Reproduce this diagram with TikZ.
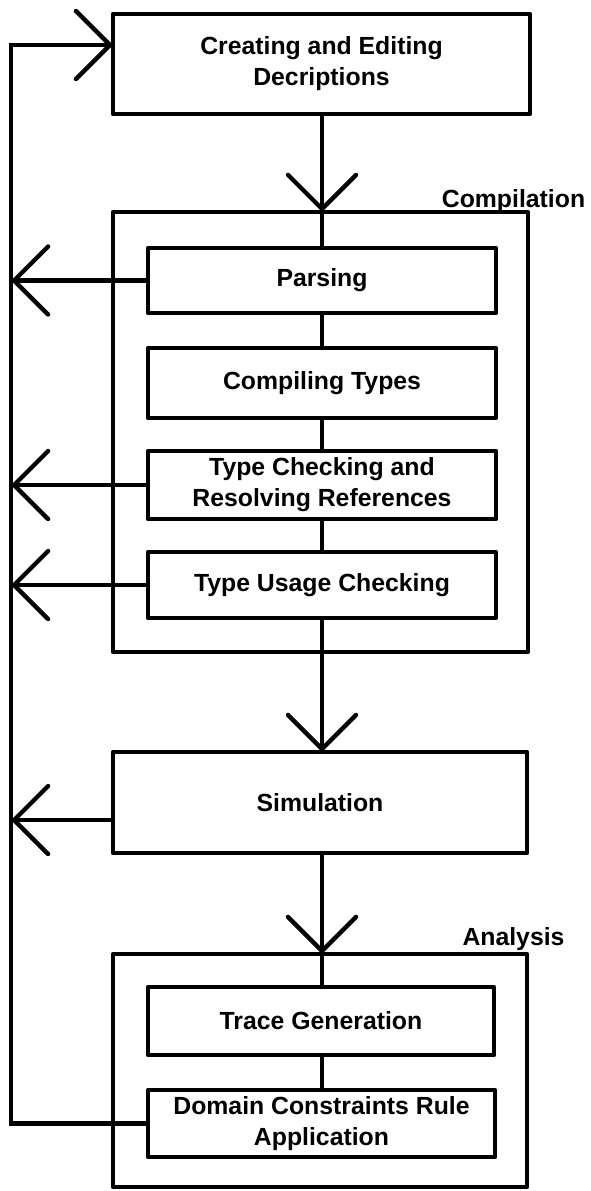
\documentclass[tikz,border=0pt]{standalone}
\usepackage{fontspec}
\setmainfont{Liberation Sans}
\usetikzlibrary{arrows.meta}

\begin{document}
\begin{tikzpicture}[x=1pt,y=-1pt,
  line width=4.4pt,
  txt/.style={font=\fontsize{24.8}{31}\selectfont\bfseries, align=center},
  box/.style={txt, draw, rectangle, inner sep=0pt, outer sep=0pt, line join=round},
  stage/.style={box, minimum width=#1},
  frame/.style={draw, rectangle, inner sep=0pt, outer sep=0pt, line join=round},
  link/.style={line cap=butt},
  arr/.style={-{Straight Barb[length=34pt, width=68pt, line cap=round, line join=miter]}},
]
\useasboundingbox (0,0) rectangle (590,1191);

% outer stages
\node[stage=417pt, minimum height=100pt] (top) at (321.5,64) {Creating and Editing\\Decriptions};
\node[frame, minimum width=415pt, minimum height=440pt] (comp) at (320.5,432) {};
\node[stage=414pt, minimum height=101pt] (sim) at (320,802.5) {Simulation};
\node[frame, minimum width=414pt, minimum height=233pt] (ana) at (320,1070.5) {};

% group labels
\node[txt, anchor=base] (complabel) at (513.5,207) {Compilation};
\node[txt, anchor=base] (analabel) at (513.5,945) {Analysis};

% compilation steps
\node[stage=348pt, minimum height=65pt] (parse) at (322,280.5) {Parsing};
\node[stage=348pt, minimum height=70pt] (ctypes) at (322,383) {Compiling Types};
\node[stage=348pt, minimum height=68pt] (tcheck) at (322,485) {Type Checking and\\Resolving References};
\node[stage=348pt, minimum height=66pt] (tusage) at (322,585) {Type Usage Checking};

% analysis steps
\node[stage=346pt, minimum height=68pt] (trace) at (321,1021) {Trace Generation};
\node[stage=347pt, minimum height=67pt] (domain) at (321.5,1123.5) {Domain Constraints Rule\\Application};

% helper coordinates
\coordinate (cx) at (322,0);
\coordinate (lx) at (11,0);
\coordinate (fbtop) at (11,45);
\coordinate (simout) at (113,820);

% main flow down the centre
\draw[arr] (top.south -| cx) -- (comp.north -| cx);
\draw[link] (comp.north -| cx) -- (parse.north -| cx);
\draw[link] (parse.south -| cx) -- (ctypes.north -| cx);
\draw[link] (ctypes.south -| cx) -- (tcheck.north -| cx);
\draw[link] (tcheck.south -| cx) -- (tusage.north -| cx);
\draw[link] (tusage.south -| cx) -- (comp.south -| cx);
\draw[arr] (comp.south -| cx) -- (sim.north -| cx);
\draw[arr] (sim.south -| cx) -- (ana.north -| cx);
\draw[link] (ana.north -| cx) -- (trace.north -| cx);
\draw[link] (trace.south -| cx) -- (domain.north -| cx);

% feedback loop back to editing
\draw[arr, line join=miter] (domain.west) -| (fbtop) -- (fbtop -| top.west);
\draw[arr] (parse.west) -- (parse.west -| lx);
\draw[arr] (tcheck.west) -- (tcheck.west -| lx);
\draw[arr] (tusage.west) -- (tusage.west -| lx);
\draw[arr] (simout) -- (simout -| lx);
\end{tikzpicture}
\end{document}
